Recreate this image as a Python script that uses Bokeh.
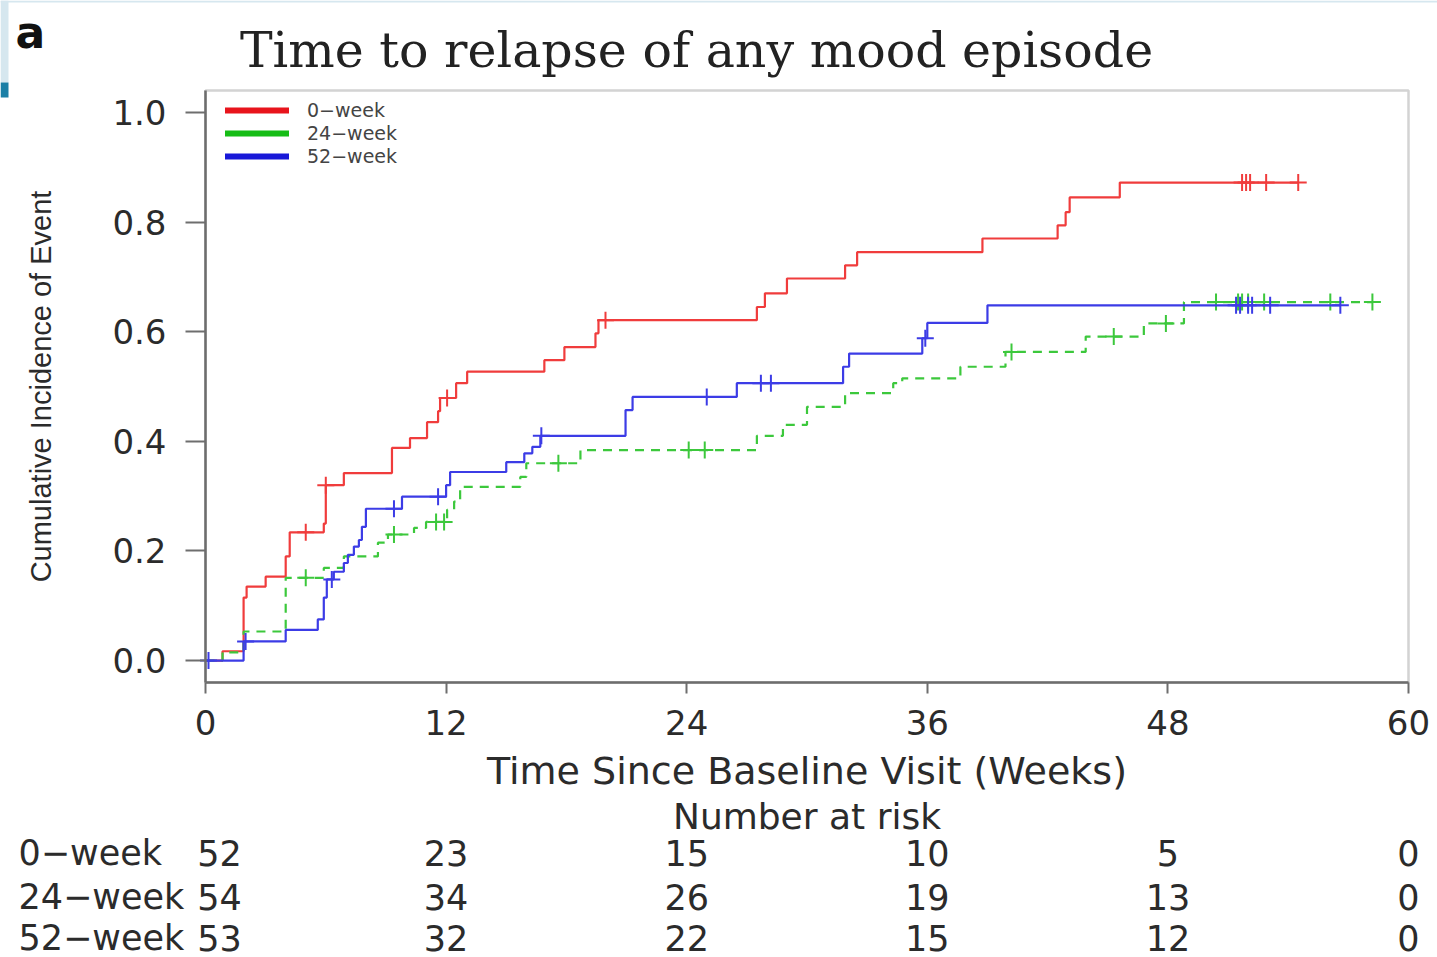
import numpy as np
from bokeh.plotting import figure
from bokeh.models import (Range1d, FixedTicker, PrintfTickFormatter, Label, LinearAxis,
                          ColumnDataSource, Legend, LegendItem, BoxAnnotation,
                          CDSView, IndexFilter)
from bokeh.core.properties import value
from bokeh.embed import file_html
from bokeh.resources import INLINE

# ---- Cumulative incidence of relapse (weeks since baseline, incidence after each event)
t_0wk = [0, 0.85, 1.9, 2.05, 3.0, 4.0, 4.2, 5.9, 6.0, 6.9, 9.3, 10.2, 11.05, 11.6, 11.7,
         12.5, 13.05, 16.9, 17.9, 19.45, 19.6, 27.5, 27.9, 29.0, 31.9, 32.5, 38.75,
         42.5, 42.9, 43.1, 45.6]
ci_0wk = [0, 0.017, 0.115, 0.135, 0.153, 0.19, 0.234, 0.25, 0.32, 0.342, 0.388, 0.406,
          0.435, 0.455, 0.479, 0.506, 0.527, 0.548, 0.572, 0.597, 0.621, 0.645, 0.67,
          0.697, 0.721, 0.745, 0.77, 0.794, 0.818, 0.845, 0.872]
cens_0wk = [5.0, 6.0, 12.05, 19.95, 51.7, 51.9, 52.1, 52.9, 54.5]

t_24wk = [0, 0.85, 1.9, 4.0, 5.9, 6.9, 8.6, 9.1, 10.4, 11.0, 12.05, 12.4, 12.7, 15.7,
          16.0, 18.7, 27.5, 28.8, 30.0, 31.9, 34.3, 34.75, 37.65, 39.9, 43.9, 46.8, 48.8]
ci_24wk = [0, 0.015, 0.053, 0.151, 0.169, 0.19, 0.215, 0.23, 0.242, 0.253, 0.275, 0.29,
           0.317, 0.335, 0.36, 0.384, 0.41, 0.43, 0.463, 0.488, 0.506, 0.515, 0.536,
           0.563, 0.591, 0.615, 0.654]
cens_24wk = [5.0, 9.4, 11.5, 11.9, 17.6, 24.1, 24.9, 40.2, 45.3, 47.9, 50.4, 51.5,
             51.7, 52.0, 52.8, 56.1, 58.2]

t_52wk = [0, 1.9, 4.0, 5.6, 5.9, 6.05, 6.4, 6.9, 7.1, 7.4, 7.65, 7.8, 8.0, 9.8, 12.0,
          12.2, 15.0, 15.9, 16.3, 16.7, 20.95, 21.3, 26.5, 31.8, 32.1, 35.75, 36.0, 39.0]
ci_52wk = [0, 0.035, 0.056, 0.075, 0.115, 0.148, 0.162, 0.178, 0.193, 0.208, 0.22,
           0.244, 0.277, 0.299, 0.32, 0.344, 0.362, 0.378, 0.39, 0.41, 0.457, 0.481,
           0.506, 0.536, 0.56, 0.588, 0.616, 0.648]
cens_52wk = [0.15, 2.0, 6.3, 9.4, 11.6, 16.75, 25.0, 27.7, 28.2, 35.9, 51.4, 51.6,
             52.0, 52.2, 53.1, 56.6]

group_names = ["0\u2212week", "24\u2212week", "52\u2212week"]

# ---- Number at risk table
risk_times = [0, 12, 24, 36, 48, 60]
risk_0wk = [52, 23, 15, 10, 5, 0]
risk_24wk = [54, 34, 26, 19, 13, 0]
risk_52wk = [53, 32, 22, 15, 12, 0]

y_ticks = [0.0, 0.2, 0.4, 0.6, 0.8, 1.0]

# ---- page geometry: the whole canvas is the drawing area; the plot box sits inside it
W, H = 1437, 957
BOX_L, BOX_R, BOX_T, BOX_B = 205, 1408, 90, 682      # plot box edges on the page (px)
X_MIN, X_MAX = 0, 60
Y_MIN, Y_MAX = -0.04, 1.04
SX = (BOX_R - BOX_L) / (X_MAX - X_MIN)
SY = (BOX_B - BOX_T) / (Y_MAX - Y_MIN)


def page_x(px):
    return X_MIN + (px - BOX_L) / SX


def page_y(py):
    return Y_MAX - (py - BOX_T) / SY


LEGEND_COLORS = ["#e8141c", "#16bd16", "#1818d8"]
CURVE_COLORS = ["#f03c3c", "#3cc83c", "#3c3ce6"]
TEXT_COLOR = "#2b2b2b"
AXIS_COLOR = "#6e6e6e"
SANS = "DejaVu Sans"

p = figure(width=W, height=H,
           x_range=Range1d(page_x(0), page_x(W)), y_range=Range1d(page_y(H), page_y(0)),
           output_backend="svg", toolbar_location=None, min_border=0,
           x_axis_location=None, y_axis_location=None)
p.title.visible = False
p.grid.visible = False
p.outline_line_color = None

# axes pinned to the edges of the plot box
yaxis = LinearAxis(fixed_location=X_MIN, bounds=(Y_MIN, Y_MAX),
                   ticker=FixedTicker(ticks=y_ticks),
                   formatter=PrintfTickFormatter(format="%.1f"))
xaxis = LinearAxis(fixed_location=Y_MIN, bounds=(X_MIN, X_MAX),
                   ticker=FixedTicker(ticks=risk_times))
for ax in (xaxis, yaxis):
    ax.axis_line_color = AXIS_COLOR
    ax.axis_line_width = 2.5
    ax.major_tick_line_color = AXIS_COLOR
    ax.major_tick_line_width = 2
    ax.minor_tick_line_color = None
    ax.major_tick_in = 0
    ax.major_label_text_font = SANS
    ax.major_label_text_font_size = "34px"
    ax.major_label_text_color = TEXT_COLOR
xaxis.major_tick_out = 11
xaxis.major_label_standoff = 16
yaxis.major_tick_out = 20
yaxis.major_label_standoff = 19
p.add_layout(yaxis, "left")
p.add_layout(xaxis, "below")

p.add_layout(BoxAnnotation(left=X_MIN, right=X_MAX, bottom=Y_MIN, top=Y_MAX,
                           fill_alpha=0, line_color=AXIS_COLOR, line_width=2.5))


def step_curve(times, values, censored):
    """Extend the step function to the last censored observation and
    look up the incidence level at each censoring time."""
    t = np.asarray(times, dtype=float)
    v = np.asarray(values, dtype=float)
    c = np.asarray(censored, dtype=float)
    end = max(t[-1], c.max())
    xs = np.append(t, end)
    ys = np.append(v, v[-1])
    idx = np.searchsorted(t, c, side="right") - 1
    return xs, ys, c, v[idx]


series = [(t_0wk, ci_0wk, cens_0wk, "solid"),
          (t_24wk, ci_24wk, cens_24wk, "9 7"),
          (t_52wk, ci_52wk, cens_52wk, "solid")]

# legend rows (one single-entry legend per group, stacked 23 px apart)
LEGEND_ROW_CENTERS = [110, 133, 156]
LEGEND_FONT_PX = 19
LEGEND_ROW_H = 22

for (times, vals, cens, dash), color, lcolor, name, row_c in zip(
        series, CURVE_COLORS, LEGEND_COLORS, group_names, LEGEND_ROW_CENTERS):
    xs, ys, cx, cy = step_curve(times, vals, cens)
    p.step(xs, ys, mode="after", line_color=color, line_width=2.2, line_dash=dash)
    p.scatter(cx, cy, marker="cross", size=17, line_color=color, line_width=2)
    # legend key: thick bar in the group colour; the renderer keeps only the
    # first point of the curve, so it draws nothing in the plot itself
    key = p.line(xs, ys, line_color=lcolor, line_width=6, line_cap="round",
                 view=CDSView(filter=IndexFilter(indices=[0])))
    leg = Legend(items=[LegendItem(label=name, renderers=[key])],
                 location=(225, H - row_c - LEGEND_ROW_H / 2),
                 glyph_width=64, glyph_height=LEGEND_ROW_H, label_standoff=18,
                 padding=0, margin=0, border_line_color=None,
                 background_fill_alpha=0,
                 label_text_font=SANS, label_text_font_size=f"{LEGEND_FONT_PX}px",
                 label_text_color="#444444", label_height=LEGEND_ROW_H)
    p.add_layout(leg)

# slide edge strips in the top-left corner
p.add_layout(BoxAnnotation(left=page_x(0), right=page_x(8), top=page_y(0),
                           bottom=page_y(82), fill_color="#d6e7ef", fill_alpha=1,
                           line_color=None))
p.add_layout(BoxAnnotation(left=page_x(0), right=page_x(8), top=page_y(82),
                           bottom=page_y(97), fill_color="#1b7fa6", fill_alpha=1,
                           line_color=None))
p.add_layout(BoxAnnotation(left=page_x(0), right=page_x(W), top=page_y(0),
                           bottom=page_y(2), fill_color="#d6e7ef", fill_alpha=1,
                           line_color=None))

# panel letter, title and axis titles
p.add_layout(Label(x=page_x(15), y=page_y(32), text="a", text_font=SANS,
                   text_font_style="bold", text_font_size="44px", text_color="#111111",
                   text_align="left", text_baseline="alphabetic"))
p.add_layout(Label(x=page_x(696), y=page_y(50), text="Time to relapse of any mood episode",
                   text_font="DejaVu Serif", text_font_size="49px", text_color="#222222",
                   text_align="center", text_baseline="alphabetic"))
p.add_layout(Label(x=page_x(40), y=(Y_MIN + Y_MAX) / 2,
                   text="Cumulative Incidence of Event", angle=np.pi / 2,
                   text_font="Liberation Sans", text_font_size="29px",
                   text_color=TEXT_COLOR, text_align="center", text_baseline="middle"))
p.add_layout(Label(x=(X_MIN + X_MAX) / 2, y=page_y(770),
                   text="Time Since Baseline Visit (Weeks)", text_font=SANS,
                   text_font_size="38px", text_color=TEXT_COLOR,
                   text_align="center", text_baseline="middle"))

# number-at-risk table, columns aligned with the week ticks
p.add_layout(Label(x=(X_MIN + X_MAX) / 2, y=page_y(816), text="Number at risk",
                   text_font=SANS, text_font_size="36px", text_color=TEXT_COLOR,
                   text_align="center", text_baseline="middle"))
row_y = [page_y(852), page_y(896), page_y(937)]
for name, counts, ry in zip(group_names, [risk_0wk, risk_24wk, risk_52wk], row_y):
    p.add_layout(Label(x=page_x(18), y=ry, text=name, text_font=SANS,
                       text_font_size="35px", text_color=TEXT_COLOR,
                       text_align="left", text_baseline="middle"))
    src = ColumnDataSource(dict(x=risk_times, y=[ry] * len(risk_times),
                                text=[str(c) for c in counts],
                                dx=[14] + [0] * (len(risk_times) - 1)))
    p.text(x="x", y="y", text="text", x_offset="dx", source=src,
           text_font=value(SANS), text_font_size="35px",
           text_color=TEXT_COLOR, text_align="center", text_baseline="middle")

open("out.html", "w").write(file_html(p, INLINE))
